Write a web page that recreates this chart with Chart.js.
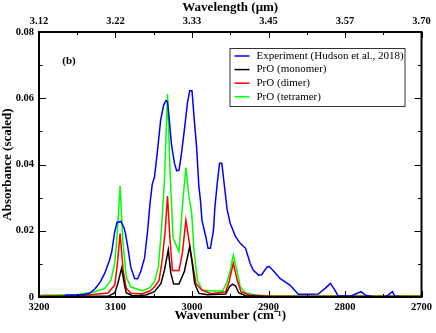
<!DOCTYPE html>
<html>
<head>
<meta charset="utf-8">
<script src="https://cdn.jsdelivr.net/npm/chart.js@4.4.1/dist/chart.umd.min.js"></script>
<style>
  body { margin: 0; background: #fff; }
  #wrap { width: 436px; height: 333px; }
</style>
</head>
<body>
<div id="wrap"><canvas id="ir" width="436" height="333"></canvas></div>
<script>
// Experiment (Hudson et al., 2018)
var expWn = [3200, 3190, 3175, 3168, 3165, 3150, 3140, 3134, 3127, 3120, 3114, 3108, 3105, 3101, 3098, 3093, 3089, 3087, 3084, 3080, 3075, 3071, 3067, 3062, 3058, 3055, 3052, 3049, 3045, 3041, 3037, 3034, 3032, 3030, 3027, 3023, 3020, 3017, 3014, 3010, 3006, 3003, 3000, 2997, 2994, 2991, 2989, 2987, 2982, 2979, 2976, 2972, 2970, 2967, 2964, 2961, 2958, 2954, 2950, 2943, 2937, 2930, 2924, 2920, 2913, 2909, 2902, 2899, 2894, 2885, 2872, 2861, 2848, 2835, 2826, 2819, 2813, 2809, 2792, 2779, 2773, 2761, 2750, 2744, 2738, 2735, 2722, 2700];
var expAbs = [0, 0, 0.0001, 0.0001, 0.0006, 0.0006, 0.0008, 0.0011, 0.0024, 0.0045, 0.0072, 0.011, 0.0135, 0.0197, 0.0225, 0.0228, 0.021, 0.0192, 0.0152, 0.009, 0.0056, 0.0055, 0.0077, 0.0118, 0.02, 0.028, 0.034, 0.0363, 0.0444, 0.0534, 0.058, 0.0593, 0.059, 0.0544, 0.0464, 0.0404, 0.0381, 0.0383, 0.0429, 0.0504, 0.0585, 0.0623, 0.0623, 0.0534, 0.0454, 0.0333, 0.0293, 0.0232, 0.0182, 0.0147, 0.0147, 0.02, 0.0273, 0.0343, 0.0404, 0.0404, 0.0343, 0.0263, 0.0222, 0.0182, 0.0162, 0.0147, 0.0102, 0.0081, 0.0066, 0.0067, 0.009, 0.0092, 0.008, 0.0056, 0.0036, 0.0008, 0.0008, 0.0009, 0.0026, 0.0041, 0.002, 0.0003, 0.0003, 0.0016, 0.0005, 0, 0, 0.0005, 0.0016, 0.0003, 0, 0];

// PrO (monomer)
var monoWn = [3200, 3150, 3110, 3101, 3097.5, 3092, 3088.5, 3086, 3078, 3060, 3049, 3040.6, 3036, 3031, 3027.7, 3024, 3017, 3010, 3003, 3000, 2996.5, 2991, 2980, 2956, 2951, 2947, 2943, 2939, 2930, 2900, 2700];
var monoAbs = [0.0001, 0.0002, 0.0002, 0.0012, 0.0036, 0.0087, 0.004, 0.0013, 0.0004, 0.0006, 0.0016, 0.0041, 0.0081, 0.0142, 0.0072, 0.0039, 0.0039, 0.0077, 0.0152, 0.0107, 0.0041, 0.0011, 0.0007, 0.0009, 0.0031, 0.0039, 0.0033, 0.0013, 0.0004, 0.0001, 0.0001];

// PrO (dimer)
var dimerWn = [3200, 3150, 3127, 3110, 3101, 3098, 3094, 3090, 3086, 3080, 3065, 3055, 3049, 3043, 3039, 3035, 3032, 3029, 3025.6, 3017, 3012.6, 3008, 3004, 2999.6, 2995, 2987, 2975, 2956, 2951.6, 2946, 2941, 2936, 2925, 2900, 2700];
var dimerAbs = [0.0003, 0.0004, 0.0008, 0.0012, 0.0036, 0.009, 0.0192, 0.008, 0.0027, 0.0011, 0.001, 0.0018, 0.0031, 0.0051, 0.0112, 0.0202, 0.0305, 0.0182, 0.008, 0.008, 0.0132, 0.0232, 0.0172, 0.0107, 0.0041, 0.0021, 0.001, 0.0016, 0.0046, 0.0102, 0.0051, 0.0016, 0.0006, 0.0002, 0.0002];

// PrO (tetramer)
var tetraWn = [3200, 3150, 3127, 3114, 3106, 3101, 3098, 3094, 3090.5, 3086, 3080, 3065, 3055, 3049, 3044, 3040, 3036, 3032, 3028.6, 3024.7, 3017, 3012.6, 3008, 3004, 3000.4, 2997.4, 2993, 2987, 2974, 2960, 2954, 2950, 2946, 2941, 2937, 2930, 2917, 2900, 2800, 2700];
var tetraAbs = [0.0005, 0.0007, 0.0016, 0.0026, 0.0051, 0.0103, 0.0182, 0.0335, 0.0172, 0.006, 0.003, 0.0019, 0.0028, 0.0046, 0.0091, 0.0202, 0.0353, 0.0613, 0.0373, 0.0177, 0.0137, 0.0273, 0.0391, 0.0303, 0.0253, 0.0142, 0.0051, 0.0021, 0.0018, 0.0018, 0.0046, 0.0081, 0.0127, 0.0077, 0.0031, 0.0012, 0.0006, 0.0004, 0.0004, 0.0004];

var seriesNames = ["Experiment (Hudson et al., 2018)", "PrO (monomer)", "PrO (dimer)", "PrO (tetramer)"];
var seriesColors = ["#0000ff", "#000000", "#ff0000", "#00ff00"];
var topTickLabels = ["3.12", "3.22", "3.33", "3.45", "3.57", "3.70"];

function pts(xs, ys) {
  var out = [];
  for (var i = 0; i < xs.length; i++) out.push({ x: xs[i], y: ys[i] });
  return out;
}

var serif = "'Liberation Serif', 'Times New Roman', serif";

// frame, inward ticks, legend and panel label
var decorations = {
  id: "decorations",
  afterDraw: function (chart) {
    var ctx = chart.ctx;
    var a = chart.chartArea;
    var sx = chart.scales.x, sy = chart.scales.y;
    ctx.save();
    ctx.strokeStyle = "#000";
    ctx.lineWidth = 1;
    ctx.beginPath();
    for (var v = 2700; v <= 3200; v += 50) {
      var px = Math.round(sx.getPixelForValue(v)) + 0.5;
      var len = v % 100 === 0 ? 6 : 3;
      ctx.moveTo(px, a.bottom); ctx.lineTo(px, a.bottom - len);
      ctx.moveTo(px, a.top); ctx.lineTo(px, a.top + len);
    }
    for (var i = 0; i <= 8; i++) {
      var py = Math.round(sy.getPixelForValue(i * 0.01)) + 0.5;
      var l2 = i % 2 === 0 ? 7 : 3.5;
      ctx.moveTo(a.left, py); ctx.lineTo(a.left + l2, py);
      ctx.moveTo(a.right, py); ctx.lineTo(a.right - l2, py);
    }
    ctx.stroke();
    ctx.lineWidth = 2;
    ctx.strokeRect(a.left, a.top, a.right - a.left, a.bottom - a.top);

    // panel label
    ctx.fillStyle = "#000";
    ctx.font = "bold 11px " + serif;
    ctx.textAlign = "center";
    ctx.textBaseline = "middle";
    ctx.fillText("(b)", a.left + 30, a.top + 29);

    // legend
    var bx = a.right - 192, by = a.top + 16, bw = 175, bh = 58;
    ctx.fillStyle = "#fff";
    ctx.fillRect(bx, by, bw, bh);
    ctx.lineWidth = 1;
    ctx.strokeStyle = "#333";
    ctx.strokeRect(bx + 0.5, by + 0.5, bw, bh);
    ctx.font = "11px " + serif;
    ctx.textAlign = "left";
    for (var k = 0; k < seriesNames.length; k++) {
      var ly = by + 8 + k * 13.6;
      ctx.strokeStyle = seriesColors[k];
      ctx.lineWidth = 1.5;
      ctx.beginPath();
      ctx.moveTo(bx + 5, ly); ctx.lineTo(bx + 20, ly);
      ctx.stroke();
      ctx.fillStyle = "#000";
      ctx.fillText(seriesNames[k], bx + 27, ly);
    }
    ctx.restore();
  }
};

var tickFont = { family: serif, size: 10.5, weight: "bold" };
var titleFont = { family: serif, size: 13, weight: "bold" };
var noGrid = { display: false, drawTicks: false, tickLength: 0 };

new Chart(document.getElementById("ir"), {
  type: "line",
  data: {
    datasets: [
      { label: seriesNames[0], data: pts(expWn, expAbs), borderColor: seriesColors[0] },
      { label: seriesNames[1], data: pts(monoWn, monoAbs), borderColor: seriesColors[1] },
      { label: seriesNames[2], data: pts(dimerWn, dimerAbs), borderColor: seriesColors[2] },
      { label: seriesNames[3], data: pts(tetraWn, tetraAbs), borderColor: seriesColors[3] }
    ]
  },
  options: {
    responsive: false,
    animation: false,
    devicePixelRatio: 1,
    layout: { padding: { left: 0, right: 12, top: 0, bottom: 0 } },
    elements: {
      point: { radius: 0 },
      line: { borderWidth: 1.5, tension: 0, fill: false }
    },
    plugins: { legend: { display: false }, tooltip: { enabled: false } },
    scales: {
      x: {
        type: "linear", position: "bottom", min: 2700, max: 3200, reverse: true,
        grid: noGrid, border: { display: false },
        ticks: { stepSize: 100, color: "#000", font: tickFont, padding: 4, maxRotation: 0, autoSkip: false,
          callback: function (v) { return String(v); } },
        title: { display: true, text: "Wavenumber (cm\u207B\u00B9)", color: "#000", font: titleFont, padding: { top: 0, bottom: 10 } },
        afterFit: function (s) { s.height = 36; }
      },
      x2: {
        type: "linear", axis: "x", position: "top", min: 2700, max: 3200, reverse: true,
        grid: noGrid, border: { display: false },
        ticks: { stepSize: 100, color: "#000", font: tickFont, padding: 4, maxRotation: 0, autoSkip: false,
          callback: function (v) { return topTickLabels[Math.round((3200 - v) / 100)]; } },
        title: { display: true, text: "Wavelength (\u03BCm)", color: "#000", font: titleFont, padding: { top: 0, bottom: 0 } },
        afterFit: function (s) { s.height = 32; }
      },
      y: {
        min: 0, max: 0.08,
        grid: noGrid, border: { display: false },
        ticks: { stepSize: 0.02, color: "#000", font: tickFont, padding: 5,
          callback: function (v) { return v === 0 ? "0" : v.toFixed(2); } },
        title: { display: true, text: "Absorbance (scaled)", color: "#000", font: titleFont, padding: { top: 0, bottom: 0 } },
        afterFit: function (s) { s.width = 39; }
      }
    }
  },
  plugins: [decorations]
});
</script>
</body>
</html>
